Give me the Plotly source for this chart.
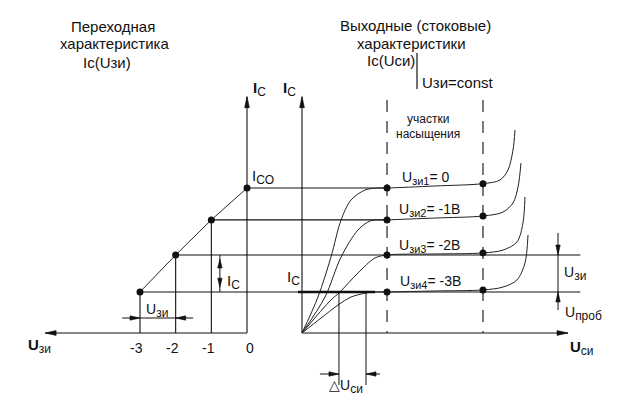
import plotly.graph_objects as go

# ---------------- data ----------------
# transfer characteristic Ic(Uзи)
ugs_values = [-3, -2, -1, 0]                 # U_зи, V
ugs_tick_labels = ["-3", "-2", "-1", "0"]
ic_transfer = [2.83, 5.38, 7.8, 10.0]        # Ic (arb. units) at each U_зи

# output (drain) characteristics Ic(Uси), top to bottom
out_ugs = [0, -1, -2, -3]
out_sub = ["зи1", "зи2", "зи3", "зи4"]
out_tail = ["= 0", "= -1В", "= -2В", "= -3В"]
uds_0 = [0, 1.68, 3.05, 4.11, 5.16, 6.63, 8.0, 8.95, 14.0, 19.05, 20.84, 21.68, 22.21, 22.42]
ic_0 = [0, 2.48, 5.24, 7.79, 9.17, 9.86, 10.0, 10.0, 10.14, 10.3, 10.55, 11.24, 12.62, 14.0]
uds_1 = [0, 2.42, 4.11, 5.89, 7.26, 8.95, 14.0, 19.05, 21.16, 22.21, 22.74, 23.05]
ic_1 = [0, 2.48, 5.24, 7.1, 7.75, 7.8, 7.93, 8.07, 8.34, 8.97, 10.07, 11.72]
uds_2 = [0, 3.05, 4.0, 5.89, 7.68, 8.95, 14.0, 19.05, 21.16, 22.63, 23.26, 23.47]
ic_2 = [0, 2.28, 2.83, 4.14, 5.17, 5.38, 5.45, 5.52, 5.72, 6.28, 7.59, 9.38]
uds_3 = [0, 2.0, 3.79, 5.16, 6.74, 7.68, 8.95, 14.0, 19.05, 21.16, 22.63, 23.47, 23.79]
ic_3 = [0, 1.03, 1.93, 2.48, 2.76, 2.83, 2.83, 2.9, 2.97, 3.17, 3.66, 4.83, 6.76]
out_uds = [uds_0, uds_1, uds_2, uds_3]
out_ic = [ic_0, ic_1, ic_2, ic_3]

sat_start = 8.95          # U_си, start of saturation region
sat_end = 19.05           # U_си, end of saturation region
level_end_uds = [8.95, 8.95, 29.3, 29.3]
delta_uds = [3.89, 6.74]  # ΔU_си construction
ugs_axis_end = -5.66
uds_axis_end = 28.0
ic_axis_top = 16.3
dash_top = 16.07
ugs_mark_uds = 26.95      # right-hand U_зи / U_проб marker position
ic_dim_ugs = -0.76        # left-hand Ic dimension position

# ---------------- layout constants (pixels) ----------------
W, H = 623, 405
X0_L, KZ = 247.0, 35.67   # pixel of U_зи = 0 and px per V
X0_R, KS = 302.0, 9.5     # pixel of U_си = 0 and px per unit
Y0, KI = 333.0, 14.5      # pixel of Ic = 0 and px per unit
INK = "#111111"
FONT = "Liberation Sans, Arial, sans-serif"


def zi_to_si(u):
    return (X0_L + u * KZ - X0_R) / KS


def kx(axis):
    return KZ if axis == "x" else KS


fig = go.Figure()


def line(axis, xs, ys, width=1.1, color=INK, dash=None, shape="linear", smoothing=None):
    ln = dict(color=color, width=width, shape=shape)
    if dash:
        ln["dash"] = dash
    if smoothing is not None:
        ln["smoothing"] = smoothing
    fig.add_trace(go.Scatter(x=xs, y=ys, xaxis=axis, yaxis="y", mode="lines",
                             line=ln, hoverinfo="skip", showlegend=False))


def head(axis, x, y, d, L=11.0, hw=2.4):
    k = kx(axis)
    if d == "left":
        xs = [x, x + L / k, x + L / k, x]; ys = [y, y + hw / KI, y - hw / KI, y]
    elif d == "right":
        xs = [x, x - L / k, x - L / k, x]; ys = [y, y + hw / KI, y - hw / KI, y]
    elif d == "up":
        xs = [x, x - hw / k, x + hw / k, x]; ys = [y, y - L / KI, y - L / KI, y]
    else:
        xs = [x, x - hw / k, x + hw / k, x]; ys = [y, y + L / KI, y + L / KI, y]
    fig.add_trace(go.Scatter(x=xs, y=ys, xaxis=axis, yaxis="y", mode="lines",
                             fill="toself", fillcolor=INK, line=dict(color=INK, width=0.6),
                             hoverinfo="skip", showlegend=False))


def dots(axis, xs, ys, size=7):
    fig.add_trace(go.Scatter(x=xs, y=ys, xaxis=axis, yaxis="y", mode="markers",
                             marker=dict(size=size, color=INK), hoverinfo="skip", showlegend=False))


# ---- left panel: transfer characteristic ----
line("x", [ugs_axis_end, 0], [0, 0])
head("x", ugs_axis_end, 0, "left")
line("x", [0, 0], [0, ic_axis_top])
head("x", 0, ic_axis_top, "up")
for u, ic in zip(ugs_values[:-1], ic_transfer[:-1]):
    line("x", [u, u], [0, ic])
line("x", ugs_values, ic_transfer, width=0.9)
dots("x", ugs_values, ic_transfer)

# level lines from transfer points into the output family
for u, end in zip(out_ugs, level_end_uds):
    ic = ic_transfer[ugs_values.index(u)]
    line("x2", [zi_to_si(u), end], [ic, ic])

# U_зи dimension (between -3 and -2)
dim_ic = (Y0 - 318) / KI
line("x", [-3.5, -1.51], [dim_ic, dim_ic], width=1)
head("x", ugs_values[0], dim_ic, "right", L=10, hw=2.2)
head("x", ugs_values[1], dim_ic, "left", L=10, hw=2.2)

# Ic dimension (between levels -2 and -3)
line("x", [ic_dim_ugs, ic_dim_ugs], [ic_transfer[1], ic_transfer[0]], width=1)
head("x", ic_dim_ugs, ic_transfer[1] - 0.28, "up", L=9, hw=2.2)
head("x", ic_dim_ugs, ic_transfer[0] + 0.33, "down", L=9, hw=2.2)

# ---- right panel: output characteristics ----
line("x2", [0, 0], [0, ic_axis_top])
head("x2", 0, ic_axis_top, "up")
line("x2", [0, uds_axis_end], [0, 0])
head("x2", uds_axis_end, 0, "right")

for xs in (sat_start, sat_end):
    line("x2", [xs, xs], [dash_top, 0], width=1.3, color="#333", dash="12px,9px")

for uds, ic in zip(out_uds, out_ic):
    line("x2", uds, ic, width=1.0, color="#222", shape="spline", smoothing=0.9)
    i0 = uds.index(sat_start)
    i1 = uds.index(sat_end)
    dots("x2", [uds[i0], uds[i1]], [ic[i0], ic[i1]])

# thick segment on lowest level
line("x2", [-0.42, 7.68], [ic_transfer[0], ic_transfer[0]], width=2.6)

# ΔU_си construction
for d in delta_uds:
    line("x2", [d, d], [ic_transfer[0], (Y0 - 385) / KI], width=1)
du_ic = (Y0 - 374) / KI
line("x2", [1.89, delta_uds[0]], [du_ic, du_ic], width=1)
head("x2", delta_uds[0], du_ic, "right", L=10, hw=2.2)
line("x2", [delta_uds[1], 8.21], [du_ic, du_ic], width=1)
head("x2", delta_uds[1], du_ic, "left", L=10, hw=2.2)

# right-hand U_зи / U_проб marker
line("x2", [ugs_mark_uds, ugs_mark_uds], [(Y0 - 233) / KI, (Y0 - 310) / KI], width=1)
head("x2", ugs_mark_uds, ic_transfer[1], "down", L=10, hw=2.2)
head("x2", ugs_mark_uds, ic_transfer[0], "up", L=10, hw=2.2)

# ---------------- text ----------------
ann = []


def P(xp, yp):
    return xp / W, 1 - yp / H


def sub(s, px):
    return "<sub><span style='font-size:%dpx'>%s</span></sub>" % (px, s)


def text(t, xp, yp, size=14, xanchor="center"):
    x, y = P(xp, yp)
    ann.append(dict(text=t, x=x, y=y, xref="paper", yref="paper", xanchor=xanchor,
                    yanchor="middle", showarrow=False, font=dict(family=FONT, size=size, color=INK)))


text("Переходная", 113, 26, size=15)
text("характеристика", 115, 44, size=15)
text("Ic(Uзи)", 107, 62, size=15)
text("Выходные (стоковые)", 415, 25, size=15)
text("характеристики", 411, 43, size=15)
text("Ic(Uси)", 391, 61, size=15)
text("Uзи=const", 420, 82, size=15, xanchor="left")
text("участки", 428, 119, size=12)
text("насыщения", 428, 134, size=12)

text("<b>I</b>" + sub("C", 12), 251, 89, size=15, xanchor="left")
text("<b>I</b>" + sub("C", 12), 281, 89, size=15, xanchor="left")
text("I" + sub("CO", 12), 250, 177, size=15, xanchor="left")
text("I" + sub("C", 12), 225, 282, size=15, xanchor="left")
text("I" + sub("C", 12), 285, 278, size=15, xanchor="left")
text("<b>U</b>" + sub("зи", 12), 26, 346, size=15, xanchor="left")
text("<b>U</b>" + sub("си", 12), 568, 348, size=15, xanchor="left")
text("U" + sub("зи", 12), 144, 310, size=14, xanchor="left")
text("U" + sub("зи", 12), 562, 273, size=14, xanchor="left")
text("U" + sub("проб", 12), 563, 313, size=14, xanchor="left")
text("△U" + sub("си", 12), 327, 386, size=14, xanchor="left")

label_y = [178, 210, 246, 282]
label_x = [400, 397, 397, 398]
for s, tail, xp, yp in zip(out_sub, out_tail, label_x, label_y):
    text("U" + sub(s, 11) + tail, xp, yp, size=14, xanchor="left")

tick_ic = (Y0 - 348) / KI
for u, t in zip(ugs_values, ugs_tick_labels):
    ann.append(dict(text=t, x=u, y=tick_ic, xref="x", yref="y", xanchor="center", yanchor="middle",
                    xshift=(3 if u == 0 else -3), showarrow=False,
                    font=dict(family=FONT, size=14, color=INK)))

# vertical bar next to "Ic(Uси)"
x_bar = 417 / W
shapes = [dict(type="line", xref="paper", yref="paper", x0=x_bar, x1=x_bar,
               y0=1 - 53 / H, y1=1 - 89 / H, line=dict(color=INK, width=1.2))]

fig.update_layout(
    width=W, height=H, autosize=False,
    margin=dict(l=0, r=0, t=0, b=0, pad=0),
    paper_bgcolor="white", plot_bgcolor="white",
    showlegend=False,
    xaxis=dict(range=[(0 - X0_L) / KZ, (W - X0_L) / KZ], visible=False, fixedrange=True),
    xaxis2=dict(range=[(0 - X0_R) / KS, (W - X0_R) / KS], overlaying="x", visible=False, fixedrange=True),
    yaxis=dict(range=[(Y0 - H) / KI, Y0 / KI], visible=False, fixedrange=True),
    annotations=ann, shapes=shapes,
)

fig.write_html("out.html", config={"displayModeBar": False},
               post_script="document.body.style.margin='0';document.body.style.padding='0';")
